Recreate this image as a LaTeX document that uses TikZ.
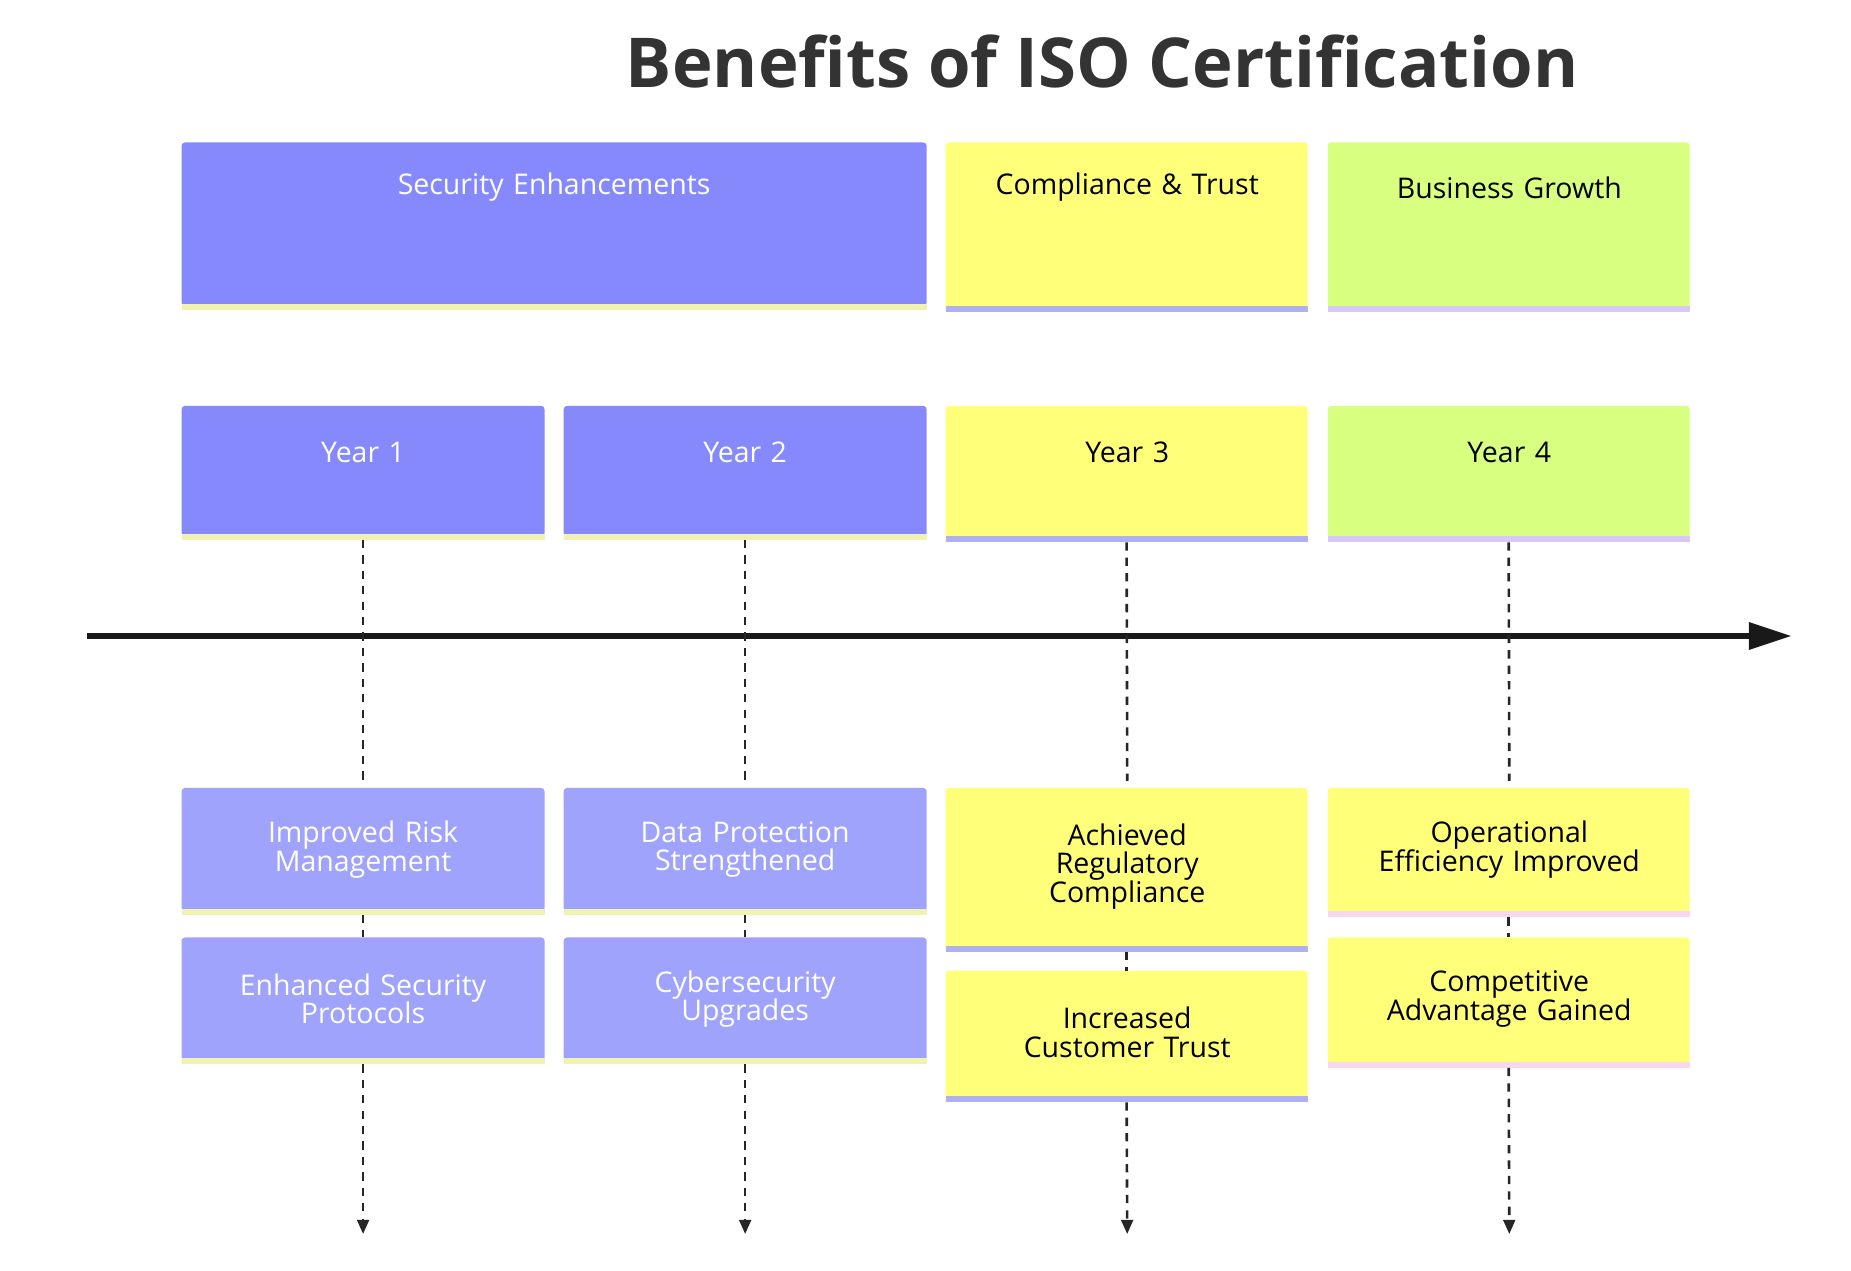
\documentclass[tikz,border=0pt]{standalone}
\usepackage{fontspec}
\setmainfont{Open Sans}
\usetikzlibrary{arrows.meta}
\definecolor{pA}{HTML}{8589FC}
\definecolor{pB}{HTML}{A0A3FC}
\definecolor{yA}{HTML}{FFFF7A}
\definecolor{gA}{HTML}{D9FF80}
\definecolor{lineY}{HTML}{F2F2B0}
\definecolor{lineP}{HTML}{AEB0F0}
\definecolor{lineL}{HTML}{D8C8F8}
\definecolor{lineK}{HTML}{F8D8F0}
\begin{document}
\begin{tikzpicture}[x=1pt,y=-1pt,
  lbl/.style={font=\fontsize{24}{28}\selectfont,align=center,text width=290pt},
  dline/.style={line width=2.2pt,dash pattern=on 7pt off 6pt,black!85},
]
\useasboundingbox (0,0) rectangle (1560,1070.4);
\node[font=\bfseries\fontsize{58}{64}\selectfont,text=black!80] (title) at (929,52) {Benefits of ISO Certification};
\newcommand{\mybox}[7]{%
  \fill[#5,rounded corners=3pt] (#1,#2) rectangle (#3,#4);
  \fill[#6] (#1,#4-2) rectangle (#3,#4+3);
  \coordinate (#7t) at ({(#1+#3)/2},#2);
  \coordinate (#7b) at ({(#1+#3)/2},#4+3);
}
\mybox{153}{120}{781}{258}{pA}{lineY}{se}
\mybox{797}{120}{1102}{260}{yA}{lineP}{ct}
\mybox{1119}{120}{1424}{260}{gA}{lineL}{bg}
\node[lbl,text=white,text width=600pt] at (467,158) {Security Enhancements};
\node[lbl] at (950,158) {Compliance \& Trust};
\node[lbl] at (1272,158) {Business Growth};

\mybox{153}{342}{459}{452}{pA}{lineY}{ya}
\mybox{475}{342}{781}{452}{pA}{lineY}{yb}
\mybox{797}{342}{1102}{454}{yA}{lineP}{yc}
\mybox{1119}{342}{1424}{454}{gA}{lineL}{yd}
\node[lbl,text=white] at (306,381) {Year 1};
\node[lbl,text=white] at (628,381) {Year 2};
\node[lbl] at (950,381) {Year 3};
\node[lbl] at (1272,381) {Year 4};

\mybox{153}{664}{459}{768}{pB}{lineY}{ra}
\mybox{475}{664}{781}{768}{pB}{lineY}{rb}
\mybox{797}{664}{1102}{799}{yA}{lineP}{rc}
\mybox{1119}{664}{1424}{770}{yA}{lineK}{rd}
\node[lbl,text=white] at (306,716) {Improved Risk\\[-4pt]Management};
\node[lbl,text=white] at (628,716) {Data Protection\\[-4pt]Strengthened};
\node[lbl] at (950,730) {Achieved\\[-4pt]Regulatory\\[-4pt]Compliance};
\node[lbl] at (1272,716) {Operational\\[-4pt]Efficiency Improved};

\mybox{153}{790}{459}{894}{pB}{lineY}{sa}
\mybox{475}{790}{781}{894}{pB}{lineY}{sb}
\mybox{797}{818}{1102}{926}{yA}{lineP}{sc}
\mybox{1119}{790}{1424}{897}{yA}{lineK}{sd}
\node[lbl,text=white] at (306,842) {Enhanced Security\\[-4pt]Protocols};
\node[lbl,text=white] at (628,842) {Cybersecurity\\[-4pt]Upgrades};
\node[lbl] at (950,870) {Increased\\[-4pt]Customer Trust};
\node[lbl] at (1272,842) {Competitive\\[-4pt]Advantage Gained};

\coordinate (axL) at (73,536);
\coordinate (axR) at (1510,536);
\draw[line width=5pt,black!90,-{Triangle[length=36pt,width=22pt]}] (axL) -- (axR);

\foreach \c/\x in {a/306,b/628,c/950,d/1272}{
  \coordinate (m\c) at (\x,658);
  \draw[dline] (y\c b) -- (m\c);
  \draw[dline] (r\c b) -- (s\c t);
  \coordinate (e\c) at (\x,1040);
  \draw[dline,-{Triangle[length=12pt,width=10pt]}] (s\c b) -- (e\c);
}
\end{tikzpicture}
\end{document}
